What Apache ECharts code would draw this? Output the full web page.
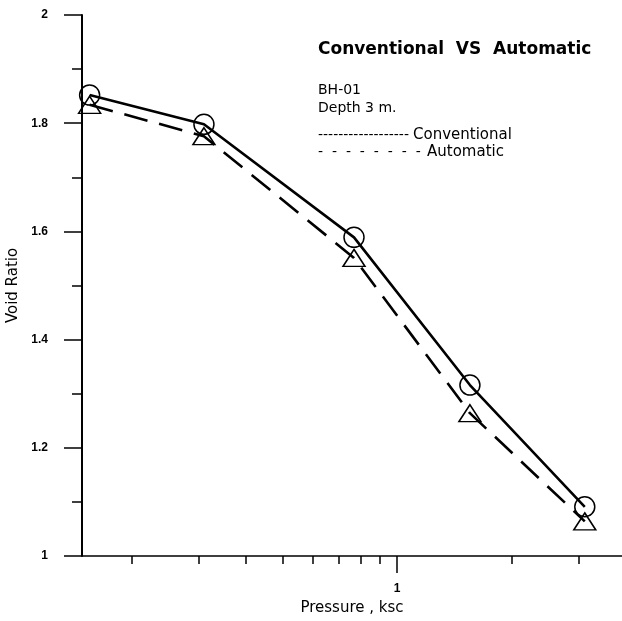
<!DOCTYPE html>
<html>
<head>
<meta charset="utf-8">
<script src="https://cdn.jsdelivr.net/npm/echarts@6/dist/echarts.min.js"></script>
<style>
html,body{margin:0;padding:0;background:#fff;}
#chart{width:622px;height:621px;}
</style>
</head>
<body>
<div id="chart"></div>
<script>
// ---- data ----
const PRESSURE = [0.155, 0.31, 0.77, 1.555, 3.12];          // ksc (log axis)
const CONVENTIONAL = [1.852, 1.798, 1.589, 1.316, 1.091];   // void ratio, circles
const AUTOMATIC = [1.834, 1.776, 1.551, 1.264, 1.064];      // void ratio, triangles
const X_MINOR_TICKS = [0.2, 0.3, 0.4, 0.5, 0.6, 0.7, 0.8, 0.9, 2, 3];
const X_MAJOR_TICKS = [1];
const X_RANGE = [0.148, 3.91];
const Y_RANGE = [1, 2];
const Y_INTERVAL = 0.2;
const TITLE = 'Conventional  VS  Automatic';
const NOTES = ['BH-01', 'Depth 3 m.'];
const SERIES_NAMES = ['Conventional', 'Automatic'];

const chart = echarts.init(document.getElementById('chart'), null, {renderer: 'canvas'});
const pts = ys => PRESSURE.map((x, i) => [x, ys[i]]);
const black = '#000';
const font = 'DejaVu Sans';

const option = {
  backgroundColor: '#fff',
  animation: false,
  title: {
    text: TITLE, left: 318, top: 41, padding: 0,
    textStyle: {fontFamily: font, fontSize: 17, fontWeight: 'bold', color: black}
  },
  grid: {left: 82, right: 0, top: 15, bottom: 65, containLabel: false, outerBoundsMode: 'none'},
  xAxis: [
    {
      type: 'log', min: X_RANGE[0], max: X_RANGE[1], position: 'bottom',
      axisLine: {show: true, lineStyle: {color: black, width: 1.5}},
      axisTick: {show: true, inside: false, length: 8, customValues: X_MINOR_TICKS, lineStyle: {color: black, width: 1.5}},
      axisLabel: {show: false},
      splitLine: {show: false}
    },
    {
      type: 'log', min: X_RANGE[0], max: X_RANGE[1], position: 'bottom',
      axisLine: {show: false},
      axisTick: {show: true, inside: false, length: 17, customValues: X_MAJOR_TICKS, lineStyle: {color: black, width: 1.5}},
      axisLabel: {show: true, customValues: X_MAJOR_TICKS, margin: 27, color: black, fontFamily: 'Liberation Sans', fontSize: 12, fontWeight: 'bold'},
      splitLine: {show: false},
      name: 'Pressure , ksc', nameLocation: 'middle', nameGap: 45,
      nameTextStyle: {fontFamily: font, fontSize: 15, color: black}
    }
  ],
  yAxis: {
    type: 'value', min: Y_RANGE[0], max: Y_RANGE[1], interval: Y_INTERVAL,
    axisLine: {show: true, lineStyle: {color: black, width: 2}},
    axisTick: {show: true, inside: false, length: 18, lineStyle: {color: black, width: 1.5}},
    minorTick: {show: true, splitNumber: 2, length: 10, lineStyle: {color: black, width: 1.5}},
    splitLine: {show: false}, minorSplitLine: {show: false},
    axisLabel: {margin: 34, color: black, fontFamily: 'Liberation Sans', fontSize: 12, fontWeight: 'bold'},
    name: 'Void Ratio', nameLocation: 'middle', nameGap: 60,
    nameTextStyle: {fontFamily: font, fontSize: 15, color: black}
  },
  series: [
    {
      name: SERIES_NAMES[0], type: 'line', xAxisIndex: 0, data: pts(CONVENTIONAL),
      symbol: 'circle', symbolSize: 20, showSymbol: true,
      itemStyle: {color: 'rgba(0,0,0,0)', borderColor: black, borderWidth: 1.5},
      lineStyle: {color: black, width: 2.6, type: 'solid'},
      z: 3
    },
    {
      name: SERIES_NAMES[1], type: 'line', xAxisIndex: 0, data: pts(AUTOMATIC),
      symbol: 'triangle', symbolSize: [22, 17], showSymbol: true,
      itemStyle: {color: 'rgba(0,0,0,0)', borderColor: black, borderWidth: 1.5},
      lineStyle: {color: black, width: 2.6, type: [24, 12]},
      z: 2
    }
  ],
  graphic: [
    {type: 'text', left: 318, top: 83, style: {text: NOTES[0], fill: black, font: '14px "DejaVu Sans"'}},
    {type: 'text', left: 318, top: 101, style: {text: NOTES[1], fill: black, font: '14px "DejaVu Sans"'}},
    {type: 'text', left: 318, top: 128, style: {text: '------------------', fill: black, font: '14px "DejaVu Sans"'}},
    {type: 'text', left: 413, top: 128, style: {text: SERIES_NAMES[0], fill: black, font: '15px "DejaVu Sans"'}},
    {type: 'text', left: 318, top: 145, style: {text: '-  -  -  -  -  -  -  -', fill: black, font: '14px "DejaVu Sans"'}},
    {type: 'text', left: 427, top: 145, style: {text: SERIES_NAMES[1], fill: black, font: '15px "DejaVu Sans"'}}
  ]
};
chart.setOption(option);
</script>
</body>
</html>
